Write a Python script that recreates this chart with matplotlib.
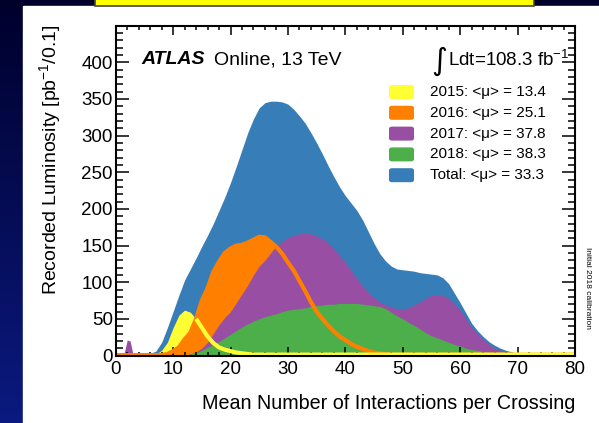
import numpy as np
import matplotlib
matplotlib.use("Agg")
import matplotlib.pyplot as plt
from matplotlib.patches import Rectangle, FancyBboxPatch

plt.rcParams['font.family'] = ['Liberation Sans', 'DejaVu Sans']
plt.rcParams['mathtext.fontset'] = 'custom'
plt.rcParams['mathtext.rm'] = 'Liberation Sans'
plt.rcParams['mathtext.it'] = 'Liberation Sans:italic'
plt.rcParams['mathtext.bf'] = 'Liberation Sans:bold'

# pile-up distributions (recorded luminosity per 0.1 in mu)
mu = [0, 1, 1.5, 2, 2.5, 3] + list(range(4, 81))

total = [2, 3, 4, 5, 4, 3, 3, 3, 3, 6, 18, 38, 60, 82, 103, 118, 133, 149, 164, 180,
         198, 216, 236, 258, 281, 304, 323, 338, 345, 347, 347, 346, 343, 336, 327,
         317, 304, 290, 275, 259, 244, 230, 218, 208, 198, 185, 169, 153, 139, 129,
         122, 118, 117, 116, 115, 113, 112, 111, 110, 106, 98, 85, 72, 58, 44, 34, 26,
         19, 14, 10, 7, 5, 3, 2, 1.6, 1.5, 1.3, 1.2, 1, 1, 1, 1, 1]
y2015 = [0.5, 0.5, 0.5, 0.5, 0.5, 0.5, 0.5, 0.5, 0.5, 2, 7, 18, 38, 55, 62, 59, 50, 38,
         26, 17, 11, 8, 6, 4, 3, 2] + [1.2] * 57
y2016 = [0.5] * 11 + [2, 6, 11, 22, 31, 50, 75, 92, 114, 128, 140, 146, 150, 151, 154,
         158, 162, 161, 155, 148, 139, 127, 116, 102, 88, 73, 60, 50, 41, 33, 26, 21,
         16, 12, 9, 6, 4, 3, 2] + [1] * 33
y2017 = [0.5, 1, 4, 21, 20, 2, 1, 1, 1, 1, 1, 1, 1, 1, 1, 2, 5, 10, 18, 30, 42, 52, 60,
         72, 84, 96, 110, 122, 130, 140, 150, 156, 161, 164, 166, 167, 166, 163, 159,
         154, 146, 136, 127, 116, 105, 95, 86, 79, 73, 69, 66, 64, 64, 65, 69, 73, 78,
         82, 83, 82, 78, 70, 62, 50, 38, 30, 22, 15, 10, 7, 5, 4, 3] + [2] * 10
y2018 = [0.5] * 14 + [1, 2, 4, 7, 11, 15, 19, 24, 29, 34, 39, 43, 47, 50, 53, 55, 57,
         60, 62, 63, 64, 65, 67, 68, 69, 70, 70, 71, 71, 71, 71, 70, 69, 68, 67, 64,
         59, 54, 50, 45, 41, 36, 31, 27, 24, 21, 18, 15, 13, 10, 8, 7, 5, 4, 3, 2] + [1] * 13

labels = ['2015: <μ> = 13.4', '2016: <μ> = 25.1', '2017: <μ> = 37.8',
          '2018: <μ> = 38.3', 'Total: <μ> = 33.3']

c2015, c2016, c2017, c2018, ctot = '#ffff33', '#ff7f00', '#984ea3', '#4daf4a', '#377eb8'

W, H = 599, 423
fig = plt.figure(figsize=(W / 100, H / 100), dpi=100)


def fx(px):
    return px / W


def fy(py):
    return 1 - py / H


# slide background
bg = fig.add_axes([0, 0, 1, 1], zorder=-10)
grad = np.linspace(0, 1, 256)[:, None]
top = np.array([0.0, 0.0, 0.17])
bot = np.array([0.04, 0.1, 0.5])
img = top + (bot - top) * grad[..., None]
bg.imshow(img * np.ones((1, 2, 1)), aspect='auto', extent=[0, 1, 0, 1])
bg.add_patch(Rectangle((fx(22.7), 0), 1, fy(6), color='white'))
bg.add_patch(Rectangle((fx(95), fy(6)), fx(534 - 95), 0.1, facecolor='#ffff00',
                       edgecolor='#444444', lw=1.2))
bg.set_xlim(0, 1)
bg.set_ylim(0, 1)
bg.axis('off')

ax = fig.add_axes([fx(115.7), fy(355.5), fx(575 - 115.7), (355.5 - 25.7) / H])

x = np.array(mu)
ax.fill_between(x, 0, total, color=ctot, lw=0)
ax.fill_between(x, 0, y2015, color=c2015, lw=0)
ax.fill_between(x, 0, y2016, color=c2016, lw=0)
ax.fill_between(x, 0, y2017, color=c2017, lw=0)
ax.fill_between(x, 0, y2018, color=c2018, lw=0)
ax.plot(x, y2016, color=c2016, lw=3, solid_capstyle='butt')
late = x >= 14
ax.plot(x[late], np.array(y2015)[late], color=c2015, lw=3, solid_capstyle='butt')

ax.set_xlim(0, 80)
ax.set_ylim(0, 450)
ax.set_xticks(range(0, 81, 10))
ax.set_xticks(range(0, 81, 2), minor=True)
ax.set_yticks(range(0, 401, 50))
ax.set_yticks(range(0, 451, 10), minor=True)
ax.tick_params(which='both', direction='in', top=True, right=True, width=1.1)
ax.tick_params(axis='x', which='major', length=6.5, labelsize=13.5, pad=4)
ax.tick_params(axis='x', which='minor', length=3)
ax.tick_params(axis='y', which='major', length=9.5, labelsize=13.5, pad=2)
ax.tick_params(axis='y', which='minor', length=5)
for s in ax.spines.values():
    s.set_linewidth(1.5)

fig.text(fx(575), fy(403), 'Mean Number of Interactions per Crossing',
         ha='right', va='center', fontsize=14.2)
fig.text(fx(50), fy(25), 'Recorded Luminosity [pb$^{-1}$/0.1]', rotation=90,
         ha='center', va='top', fontsize=14)

fig.text(fx(141.7), fy(60), 'ATLAS', fontsize=14, fontweight='bold',
         fontstyle='italic', va='center')
fig.text(fx(214), fy(60), 'Online, 13 TeV', fontsize=14, va='center')
fig.text(fx(447.5), fy(61), '∫', fontsize=22, ha='right', va='center',
         family=['DejaVu Sans'])
fig.text(fx(448), fy(60), 'Ldt=108.3 fb$^{-1}$', fontsize=13.5, va='center')
fig.text(fx(588), fy(288), 'Initial 2018 calibration', rotation=-90,
         ha='center', va='center', fontsize=6)

# legend boxes
for i, (lab, c) in enumerate(zip(labels, [c2015, c2016, c2017, c2018, ctot])):
    yc = 92 + i * 20.8
    fig.add_artist(FancyBboxPatch((fx(389), fy(yc + 7)), fx(25), 14 / H,
                                  boxstyle='round,pad=0,rounding_size=0.005',
                                  transform=fig.transFigure, facecolor=c,
                                  edgecolor='none', zorder=5))
    fig.text(fx(430), fy(yc), lab, fontsize=11, va='center')

fig.savefig('out.png', dpi=100)
